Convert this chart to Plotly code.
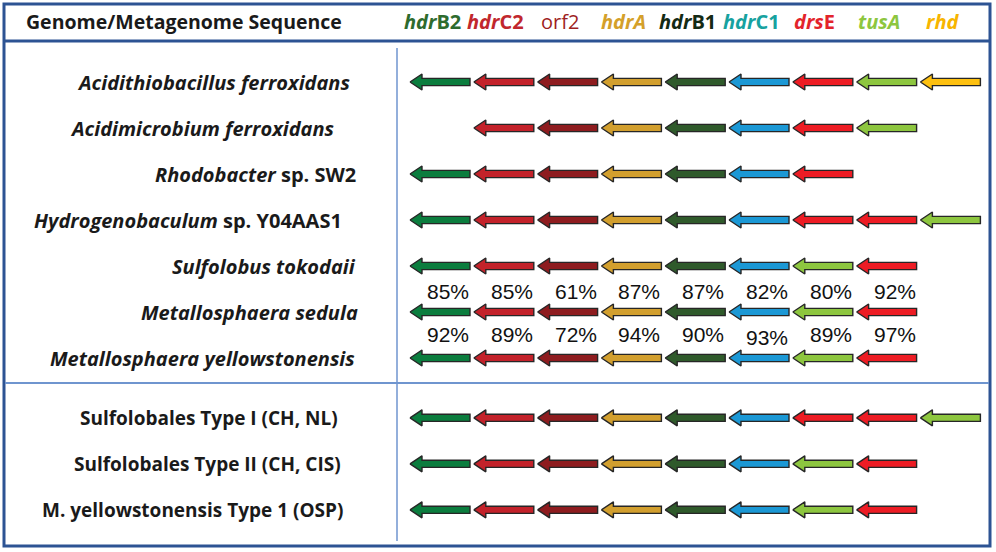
"""Hdr gene cluster organisation across genomes / metagenomes."""
import plotly.graph_objects as go

W, H = 996, 552

genes = ["hdrB2", "hdrC2", "orf2", "hdrA", "hdrB1", "hdrC1", "drsE", "tusA", "rhd"]
gene_fill = {
    "hdrB2": "#0b7d3e", "hdrC2": "#c3222a", "orf2": "#8e1c1f", "hdrA": "#d29f2e",
    "hdrB1": "#2f5a2b", "hdrC1": "#1b98d5", "drsE": "#ed1c24", "tusA": "#8dc63f",
    "rhd": "#fdc010",
}
gene_label = [
    "<b><i>hdr</i>B2</b>", "<b><i>hdr</i>C2</b>", "orf2", "<b><i>hdrA</i></b>",
    "<b><i>hdr</i>B1</b>", "<b><i>hdr</i>C1</b>", "<b><i>drs</i>E</b>",
    "<b><i>tusA</i></b>", "<b><i>rhd</i></b>",
]
gene_label_color = ["#2e6b2e", "#c1272d", "#9e1f1f", "#d4a02a", "#142a14",
                    "#17a2a0", "#e3242b", "#8dc63f", "#f7b500"]

organisms = [
    "<b><i>Acidithiobacillus ferroxidans</i></b>",
    "<b><i>Acidimicrobium ferroxidans</i></b>",
    "<b><i>Rhodobacter</i> sp. SW2</b>",
    "<b><i>Hydrogenobaculum</i> sp. Y04AAS1</b>",
    "<b><i>Sulfolobus tokodaii</i></b>",
    "<b><i>Metallosphaera sedula</i></b>",
    "<b><i>Metallosphaera yellowstonensis</i></b>",
    "<b>Sulfolobales Type I (CH, NL)</b>",
    "<b>Sulfolobales Type II (CH, CIS)</b>",
    "<b>M. yellowstonensis Type 1 (OSP)</b>",
]
# row position (second block sits a bit lower)
row_pos = [0, 1, 2, 3, 4, 5, 6, 7.3, 8.3, 9.3]

sulfo = ["hdrB2", "hdrC2", "orf2", "hdrA", "hdrB1", "hdrC1", "tusA", "drsE"]
clusters = [
    ["hdrB2", "hdrC2", "orf2", "hdrA", "hdrB1", "hdrC1", "drsE", "tusA", "rhd"],
    [None, "hdrC2", "orf2", "hdrA", "hdrB1", "hdrC1", "drsE", "tusA"],
    ["hdrB2", "hdrC2", "orf2", "hdrA", "hdrB1", "hdrC1", "drsE"],
    ["hdrB2", "hdrC2", "orf2", "hdrA", "hdrB1", "hdrC1", "drsE", "drsE", "tusA"],
    sulfo, sulfo, sulfo,
    ["hdrB2", "hdrC2", "orf2", "hdrA", "hdrB1", "hdrC1", "drsE", "drsE", "tusA"],
    sulfo, sulfo,
]

# amino acid identity, S. tokodaii vs M. sedula, and M. sedula vs M. yellowstonensis
ident_tok_sed = [85, 85, 61, 87, 87, 82, 80, 92]
ident_sed_yel = [92, 89, 72, 94, 90, 93, 89, 97]

# pixel geometry -> axis units
X0, DX = 440, 63.8
Y0, DY = 82, 46
xr = [(0 - X0) / DX, (W - X0) / DX]
yr = [(H - Y0) / DY, (0 - Y0) / DY]
half_len, head_len = 30 / DX, 12 / DX
shaft_h, head_h = 3.6 / DY, 8 / DY
label_right = [352, 337, 358, 344, 358, 360, 357, 340, 343, 345]  # px, right edge of names


def arrow(s, r):
    xl, xr_, xh = s - half_len, s + half_len, s - half_len + head_len
    return ([xl, xh, xh, xr_, xr_, xh, xh, xl, None],
            [r, r - head_h, r - shaft_h, r - shaft_h, r + shaft_h, r + shaft_h, r + head_h, r, None])


fig = go.Figure()
for g in genes:
    xs, ys = [], []
    for r, row in zip(row_pos, clusters):
        for s, name in enumerate(row):
            if name == g:
                ax, ay = arrow(s, r)
                xs += ax
                ys += ay
    fig.add_trace(go.Scatter(x=xs, y=ys, mode="lines", fill="toself",
                             fillcolor=gene_fill[g],
                             line=dict(color="#262626", width=1.4),
                             hoverinfo="skip", showlegend=False))

ann = []
for i, (lab, col) in enumerate(zip(gene_label, gene_label_color)):
    ann.append(dict(x=i, y=1 - 22 / H, xref="x", yref="paper", text=lab,
                    xshift=-8, xanchor="center", yanchor="middle", showarrow=False,
                    font=dict(size=20, color=col, family="Open Sans")))
for k, (org, r) in enumerate(zip(organisms, row_pos)):
    ann.append(dict(x=label_right[k] / W, y=r, xref="paper", yref="y", text=org,
                    xanchor="right", yanchor="middle", showarrow=False,
                    font=dict(size=20 if k < 7 else 19, color="#1a1a1a",
                              family="Open Sans")))
for s, v in enumerate(ident_tok_sed):
    ann.append(dict(x=s, y=4.55, text=f"{v}%", xshift=8, showarrow=False,
                    font=dict(size=21, color="#111", family="Liberation Sans")))
for s, v in enumerate(ident_sed_yel):
    ann.append(dict(x=s, y=5.48 + (0.08 if v == 93 else 0), text=f"{v}%",
                    xshift=8, showarrow=False,
                    font=dict(size=21, color="#111", family="Liberation Sans")))
ann.append(dict(x=184 / W, y=1 - 22 / H, xref="paper", yref="paper",
                xanchor="center", yanchor="middle",
                text="<b>Genome/Metagenome Sequence</b>", showarrow=False,
                font=dict(size=19.5, color="#1a1a1a", family="Open Sans")))

frame = "#2d5393"
light = "#6f95cf"
shapes = [
    dict(type="rect", xref="paper", yref="paper", x0=4 / W, x1=990 / W,
         y0=1 - 546 / H, y1=1 - 4 / H, line=dict(color=frame, width=3)),
    dict(type="line", xref="paper", yref="paper", x0=4 / W, x1=990 / W,
         y0=1 - 41 / H, y1=1 - 41 / H, line=dict(color=frame, width=3)),
    dict(type="line", xref="paper", yref="paper", x0=397 / W, x1=397 / W,
         y0=1 - 541 / H, y1=1 - 48 / H, line=dict(color=light, width=1.5)),
    dict(type="line", xref="paper", yref="paper", x0=5 / W, x1=989 / W,
         y0=1 - 383 / H, y1=1 - 383 / H, line=dict(color=light, width=2)),
]

fig.update_layout(
    width=W, height=H, margin=dict(l=0, r=0, t=0, b=0),
    paper_bgcolor="white", plot_bgcolor="white",
    xaxis=dict(range=xr, visible=False, fixedrange=True),
    yaxis=dict(range=yr, visible=False, fixedrange=True),
    annotations=ann, shapes=shapes,
)

fig.write_html("out.html", config={"displayModeBar": False},
               post_script="document.body.style.margin='0';"
                           "document.body.style.overflow='hidden';")
